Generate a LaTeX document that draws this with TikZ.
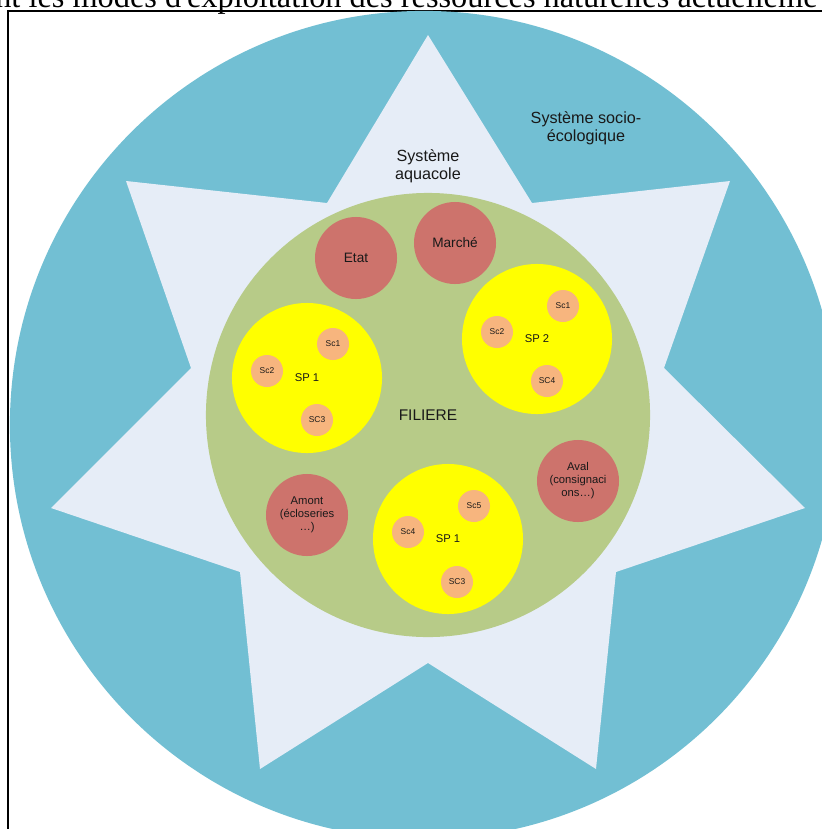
\documentclass[tikz,border=0pt]{standalone}
\usepackage{fontspec}
\setmainfont{Liberation Sans}
\newfontfamily\serifcap{Liberation Serif}
\definecolor{socioblue}{HTML}{72BFD3}
\definecolor{aquastar}{HTML}{E6EDF7}
\definecolor{filgreen}{HTML}{B7CB88}
\definecolor{spyellow}{HTML}{FFFF00}
\definecolor{actred}{HTML}{CD736C}
\definecolor{scorange}{HTML}{F7B57E}
\begin{document}
\begin{tikzpicture}[x=0.025cm,y=-0.025cm]
  \tikzset{
    disc/.style={circle, inner sep=0pt, align=center, text=black!90},
    acteur/.style={disc, fill=actred, minimum size=2.05cm},
    souspop/.style={disc, fill=spyellow, minimum size=3.75cm, font=\fontsize{8}{9}\selectfont},
    souscat/.style={disc, fill=scorange, minimum size=0.8cm, font=\fontsize{6}{7}\selectfont},
    syslabel/.style={align=center, text=black!90, font=\fontsize{11.5}{12.8}\selectfont}
  }
  \useasboundingbox (0,0) rectangle (822,829);
  \clip (0,0) rectangle (822,829);

  % caption line cut by the page
  \node[anchor=base west, inner sep=0pt, font=\serifcap\fontsize{23}{25}\selectfont] (legende) at (-5,7)
    {nt les modes d'exploitation des ressources naturelles actuelleme};
  \draw[line width=1.4pt] (8,829) -- (8,11) -- (822,11);

  % systeme socio-ecologique et systeme aquacole
  \fill[socioblue] (424,425) circle [radius=10.35cm];
  \fill[aquastar] (428,35) -- (532,203) -- (730,181) -- (664,368) -- (805,508) -- (616,572)
    -- (596,769) -- (428,663) -- (260,769) -- (240,572) -- (51,508) -- (191,368)
    -- (126,181) -- (327,203) -- cycle;
  \node[syslabel] (socio) at (586,128) {Système socio-\\écologique};
  \node[syslabel] (aqua) at (428,166) {Système\\aquacole};

  % filiere
  \node[disc, fill=filgreen, minimum size=11.1cm, font=\fontsize{11}{12}\selectfont] (filiere) at (428,415) {FILIERE};

  % acteurs
  \node[acteur, font=\fontsize{9.7}{11}\selectfont] (etat) at (356,258) {Etat};
  \node[acteur, font=\fontsize{9.7}{11}\selectfont] (marche) at (455,243) {Marché};
  \node[acteur, font=\fontsize{8}{9.2}\selectfont] (amont) at (307,515) {Amont\\(écloseries\\…)};
  \node[acteur, font=\fontsize{8}{9.2}\selectfont] (aval) at (578,481) {Aval\\(consignaci\\ons…)};

  % sous-populations
  \node[souspop] (spa) at (307,378) {SP 1};
  \node[souscat] (spa1) at (333,344) {Sc1};
  \node[souscat] (spa2) at (267,371) {Sc2};
  \node[souscat] (spa3) at (317,420) {SC3};

  \node[souspop] (spb) at (537,339) {SP 2};
  \node[souscat] (spb1) at (563,306) {Sc1};
  \node[souscat] (spb2) at (497,332) {Sc2};
  \node[souscat] (spb4) at (547,381) {SC4};

  \node[souspop] (spc) at (448,539) {SP 1};
  \node[souscat] (spc5) at (474,506) {Sc5};
  \node[souscat] (spc4) at (408,532) {Sc4};
  \node[souscat] (spc3) at (457,582) {SC3};
\end{tikzpicture}
\end{document}
